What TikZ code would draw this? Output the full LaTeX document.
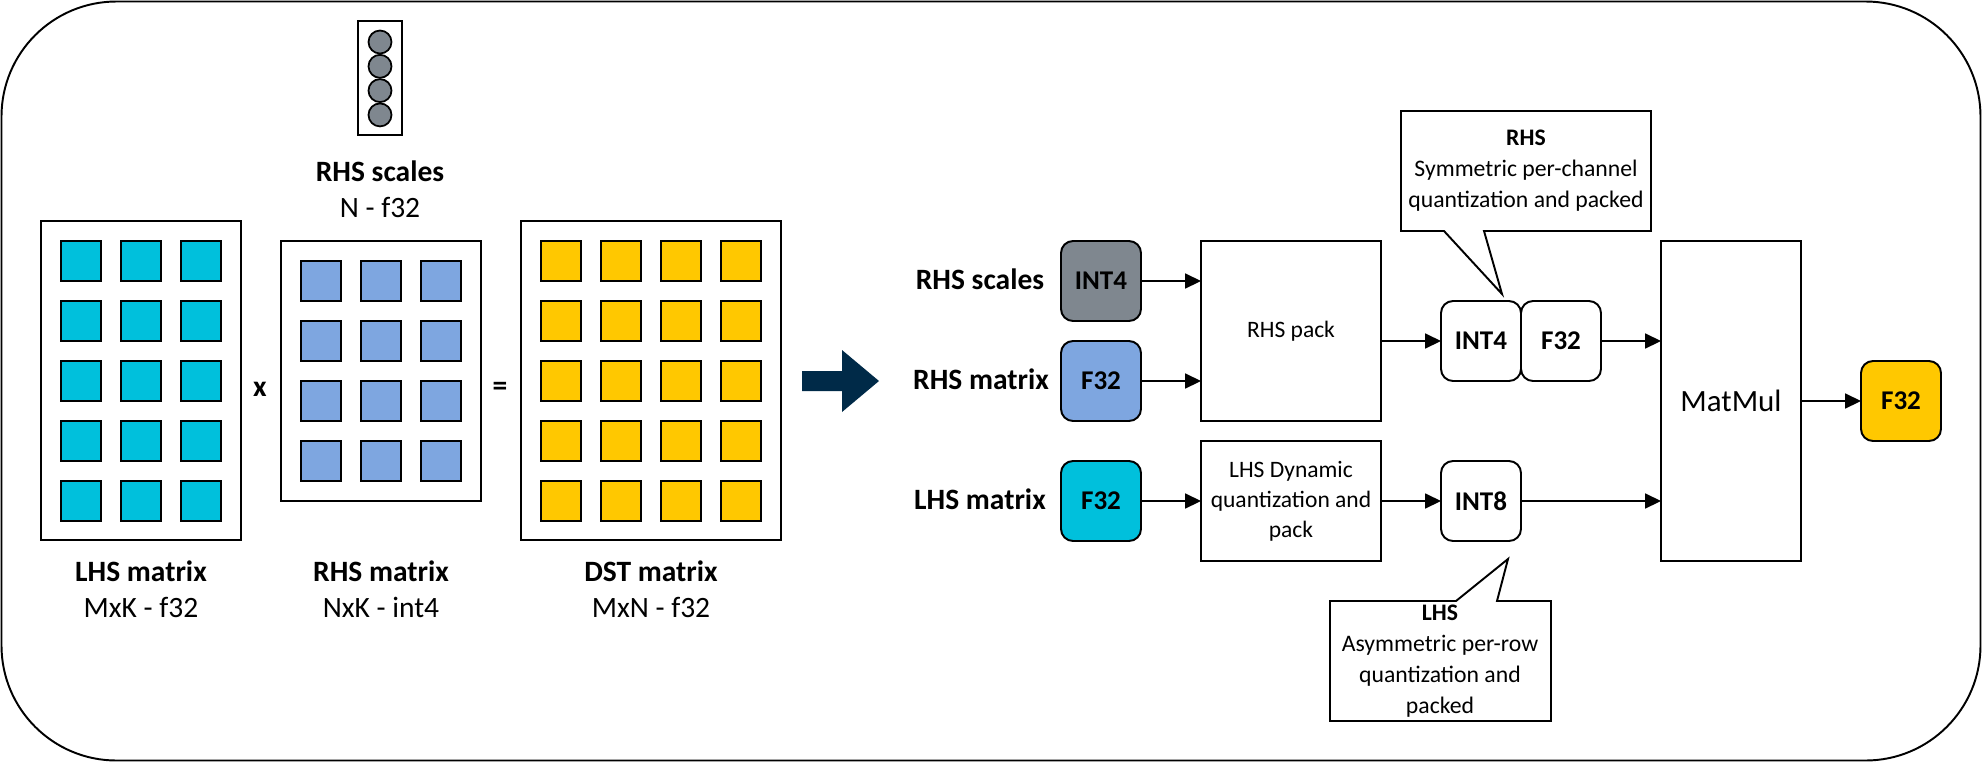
\documentclass[tikz,border=0pt]{standalone}
\usepackage{fontspec}
\setmainfont{Carlito}
\usetikzlibrary{arrows.meta}
\definecolor{lhscyan}{RGB}{0, 192, 220}
\definecolor{rhsblue}{RGB}{126, 166, 224}
\definecolor{dstyellow}{RGB}{255, 200, 0}
\definecolor{scalegray}{RGB}{127, 135, 143}
\definecolor{navy}{RGB}{0, 42, 72}

\begin{document}
\begin{tikzpicture}[
        x=0.02cm, y=-0.02cm,
        frame/.style={draw, line width=1.1pt},
        cell/.style={draw, line width=1pt},
        box/.style={frame, inner sep=0pt, outer sep=0pt},
        title/.style={font=\fontsize{16.8}{20}\selectfont\bfseries},
        dims/.style={font=\fontsize{16.8}{20}\selectfont},
        dtype/.style={box, rounded corners=0.24cm, minimum width=1.6cm,
            minimum height=1.6cm, font=\fontsize{15.4}{18}\selectfont\bfseries},
        stage/.style={box, minimum width=3.6cm, align=center,
            font=\fontsize{13.4}{17}\selectfont},
        note/.style={align=center, font=\fontsize{13.5}{17.6}\selectfont},
        flow/.style={-{Triangle[length=9pt,width=8.5pt]}, line width=0.8pt}
    ]
    \useasboundingbox (0,0) rectangle (1982,762);
    \draw[frame, rounded corners=2.3cm] (1.5,1.5) rectangle (1980.5,760.5);

    % left: the matrices
    \node[box, minimum width=0.88cm, minimum height=2.28cm] (scalevec) at (380,78) {};
    \foreach \k in {0,...,3}
        \draw[cell, fill=scalegray] (380,42+24.3*\k) circle (0.23cm);
    \node[title] (scalename) at (380,171) {RHS scales};
    \node[dims] (scaledims) at (380,207.5) {N - f32};

    \node[box, minimum width=4cm, minimum height=6.38cm] (lhsbox) at (141,380.5) {};
    \foreach \i in {0,1,2}
        \foreach \j in {0,...,4}
            \draw[cell, fill=lhscyan] (61+60*\i,241+60*\j) rectangle ++(40,40);
    \node[box, minimum width=4cm, minimum height=5.2cm] (rhsbox) at (381,371) {};
    \foreach \i in {0,1,2}
        \foreach \j in {0,...,3}
            \draw[cell, fill=rhsblue] (301+60*\i,261+60*\j) rectangle ++(40,40);
    \node[box, minimum width=5.2cm, minimum height=6.38cm] (dstbox) at (651,380.5) {};
    \foreach \i in {0,...,3}
        \foreach \j in {0,...,4}
            \draw[cell, fill=dstyellow] (541+60*\i,241+60*\j) rectangle ++(40,40);

    \node[title] (times) at (260,389) {x};
    \node[title] (equals) at (500,389) {=};
    \node[title] (lhsname) at (141,571) {LHS matrix};
    \node[dims] (lhsdims) at (141,607) {MxK - f32};
    \node[title] (rhsname) at (381,571) {RHS matrix};
    \node[dims] (rhsdims) at (381,607) {NxK - int4};
    \node[title] (dstname) at (651,571) {DST matrix};
    \node[dims] (dstdims) at (651,607) {MxN - f32};

    \fill[navy] (802,371) -- (842,371) -- (842,350) -- (879,381)
        -- (842,412) -- (842,391) -- (802,391) -- cycle;

    % right: the pipeline
    \node[title] (sclabel) at (980,279) {RHS scales};
    \node[title] (rmlabel) at (981,379) {RHS matrix};
    \node[title] (lmlabel) at (980,499) {LHS matrix};
    \node[dtype, fill=scalegray] (scl) at (1101,281) {INT4};
    \node[dtype, fill=rhsblue] (rhsin) at (1101,381) {F32};
    \node[dtype, fill=lhscyan] (lhsin) at (1101,501) {F32};

    \node[stage, minimum height=3.6cm] (rpack) at (1291,331) {RHS pack};
    \node[stage, minimum height=2.4cm] (lpack) at (1291,501)
        {LHS Dynamic\\quantization and\\pack};

    \node[dtype] (rint4) at (1481,341) {INT4};
    \node[dtype] (rf32) at (1561,341) {F32};
    \node[dtype] (lint8) at (1481,501) {INT8};

    \node[box, minimum width=2.8cm, minimum height=6.4cm,
        font=\fontsize{17.6}{21}\selectfont] (matmul) at (1731,401) {MatMul};
    \node[dtype, fill=dstyellow] (outf) at (1901,401) {F32};

    \draw[flow] (scl.east) -- (scl.east -| rpack.west);
    \draw[flow] (rhsin.east) -- (rhsin.east -| rpack.west);
    \draw[flow] (lhsin.east) -- (lpack.west);
    \draw[flow] (rint4.west -| rpack.east) -- (rint4.west);
    \draw[flow] (rf32.east) -- (rf32.east -| matmul.west);
    \draw[flow] (lpack.east) -- (lint8.west);
    \draw[flow] (lint8.east) -- (lint8.east -| matmul.west);
    \draw[flow] (matmul.east) -- (outf.west);

    % callouts
    \coordinate (rhstip) at (1502,294);
    \draw[frame, fill=white] (1401,111) -- (1651,111) -- (1651,231) -- (1484,231)
        -- (rhstip) -- (1444,231) -- (1401,231) -- cycle;
    \node[note] (rhsnote) at (1526,171)
        {\textbf{RHS}\\Symmetric per-channel\\quantization and packed};
    \coordinate (lhstip) at (1508,559);
    \draw[frame, fill=white] (1330,601) -- (1456,601) -- (lhstip) -- (1497,601)
        -- (1551,601) -- (1551,721) -- (1330,721) -- cycle;
    \node[note] (lhsnote) at (1440,661)
        {\textbf{LHS}\\Asymmetric per-row\\quantization and\\packed};
\end{tikzpicture}
\end{document}
